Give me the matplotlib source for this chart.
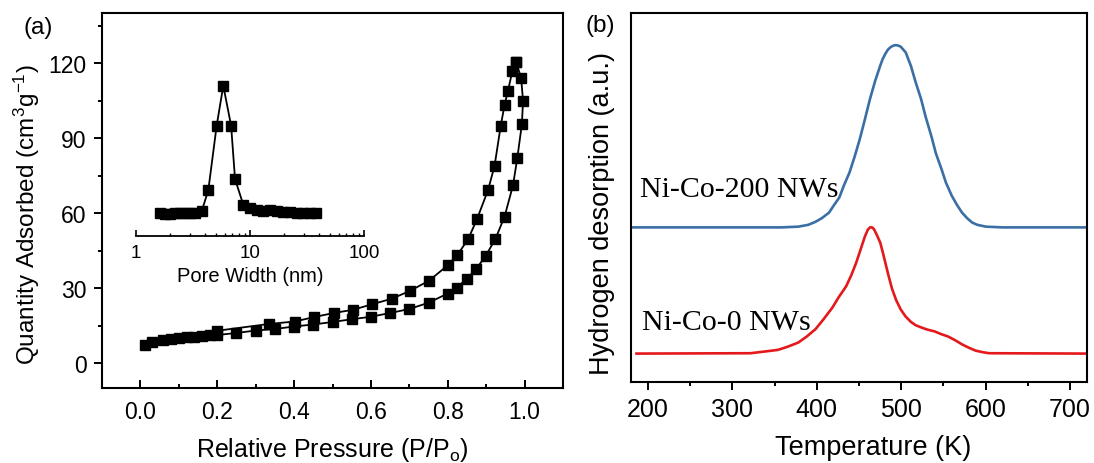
import numpy as np
import matplotlib
matplotlib.use('Agg')
import matplotlib.pyplot as plt
from matplotlib.ticker import MultipleLocator, LogLocator, NullFormatter

plt.rcParams['font.family'] = ['Liberation Sans', 'DejaVu Sans']
plt.rcParams['mathtext.fontset'] = 'custom'
plt.rcParams['mathtext.rm'] = 'Liberation Sans'
plt.rcParams['mathtext.it'] = 'Liberation Sans:italic'

#
# (a) N2 isotherm, adsorption (lower) and desorption (upper) branches
#
ads_p = [0.013, 0.03, 0.06, 0.08, 0.10, 0.12, 0.14, 0.16, 0.18, 0.20, 0.25, 0.30,
         0.35, 0.40, 0.45, 0.50, 0.55, 0.60, 0.65, 0.70, 0.75, 0.80, 0.823, 0.849,
         0.874, 0.899, 0.924, 0.948, 0.970, 0.981, 0.993, 0.996, 0.991, 0.978]
ads_q = [7.3, 8.4, 9.2, 9.6, 10.0, 10.3, 10.6, 10.9, 11.3, 11.2, 12.0, 13.0,
         13.6, 14.6, 15.4, 16.4, 17.5, 18.5, 20.0, 21.6, 24.1, 27.8, 30.1, 33.6,
         37.6, 42.9, 49.6, 58.6, 71.2, 81.9, 95.6, 104.9, 114.0, 120.4]
des_p = [0.978, 0.968, 0.957, 0.948, 0.938, 0.922, 0.905, 0.876, 0.853, 0.825,
         0.801, 0.751, 0.701, 0.654, 0.603, 0.554, 0.503, 0.453, 0.402, 0.334, 0.20]
des_q = [120.4, 116.7, 109.0, 103.3, 95.0, 79.0, 69.2, 57.5, 49.5, 43.2,
         39.2, 32.9, 28.8, 25.7, 23.5, 21.3, 20.0, 18.4, 16.6, 15.6, 12.9]

# inset: pore size distribution (arbitrary units)
pore_w = [1.62, 1.8, 1.99, 2.2, 2.43, 2.69, 2.97, 3.29, 3.77, 4.31, 5.1, 5.83, 6.83,
          7.39, 8.73, 10.0, 11.6, 13.1, 15.0, 17.2, 19.6, 22.4, 25.6, 29.3, 33.5, 38.3]
pore_v = [22.7, 22.0, 22.0, 22.7, 23.0, 22.7, 22.7, 22.7, 24.7, 46.0, 110.3, 150.3, 110.3,
          57.0, 31.3, 27.7, 26.3, 25.3, 26.3, 25.0, 24.3, 23.7, 23.3, 22.7, 22.7, 22.7]

#
# (b) hydrogen TPD curves (a.u.)
#
t200 = [180.5, 358.0, 378.2, 390.0, 398.4, 406.0, 414.5, 420.0, 426.7, 432.0, 438.8,
        445.0, 450.9, 457.0, 463.0, 469.0, 475.1, 478.0, 481.1, 484.0, 487.2, 490.0,
        493.2, 496.0, 499.3, 502.0, 505.4, 508.0, 511.4, 517.0, 523.5, 529.0, 535.6,
        541.0, 547.7, 553.0, 559.8, 566.0, 572.0, 578.0, 584.1, 590.0, 600.2, 610.0,
        620.4, 719.3]
h200 = [41.9, 41.9, 42.1, 42.6, 43.4, 44.4, 45.9, 47.8, 50.0, 53.2, 56.8,
        61.2, 65.8, 71.2, 76.7, 81.5, 85.7, 87.5, 88.9, 90.0, 90.7, 91.1,
        91.3, 91.2, 90.9, 90.2, 89.3, 87.7, 85.7, 81.3, 76.7, 71.8, 66.7,
        62.0, 57.7, 54.0, 50.5, 48.0, 45.9, 44.4, 43.2, 42.6, 42.1, 42.0,
        41.9, 41.9]
t0 = [186.5, 321.7, 354.0, 366.0, 378.2, 388.0, 398.4, 408.0, 418.6, 426.0, 434.7,
      441.0, 446.8, 452.0, 456.9, 460.5, 463.0, 465.5, 467.8, 471.0, 475.1, 478.0,
      481.1, 485.0, 489.2, 494.0, 499.3, 505.0, 511.4, 517.0, 523.5, 531.0, 539.7,
      547.0, 555.8, 564.0, 572.0, 580.0, 588.1, 596.0, 604.2, 719.3]
h0 = [7.7, 7.8, 8.7, 9.6, 10.7, 12.3, 14.3, 17.0, 20.2, 23.0, 25.9,
      29.0, 32.4, 36.0, 39.4, 41.3, 41.9, 41.9, 41.4, 39.9, 37.8, 35.3,
      32.4, 28.8, 25.2, 22.2, 19.7, 17.8, 16.3, 15.4, 14.8, 14.2, 13.7,
      13.0, 12.3, 11.3, 10.2, 9.3, 8.5, 8.1, 7.8, 7.7]

W, H = 1094, 464
fig = plt.figure(figsize=(W / 100, H / 100), dpi=100)

def box(l, r, t, b):
    return [l / W, 1 - b / H, (r - l) / W, (b - t) / H]

# ---------------- panel (a) ----------------
ax1 = fig.add_axes(box(102, 563, 14, 389))
mk = dict(marker='s', ms=7, color='black', mfc='black', lw=1.3)
ax1.plot(ads_p, ads_q, **mk)
ax1.plot(des_p, des_q, **mk)
ax1.set_xlim(-0.1, 1.1)
ax1.set_ylim(-10, 140)
ax1.xaxis.set_major_locator(MultipleLocator(0.2))
ax1.xaxis.set_minor_locator(MultipleLocator(0.1))
ax1.yaxis.set_major_locator(MultipleLocator(30))
ax1.yaxis.set_minor_locator(MultipleLocator(15))
ax1.set_xticks([0.0, 0.2, 0.4, 0.6, 0.8, 1.0])
ax1.set_yticks([0, 30, 60, 90, 120])
ax1.tick_params(axis='x', which='both', direction='in', top=False, labelsize=16.5, pad=9)
ax1.tick_params(axis='x', which='major', length=6, width=1.4)
ax1.tick_params(axis='x', which='minor', length=3, width=1.4)
ax1.tick_params(axis='y', which='both', direction='out', right=False, labelsize=16.5, pad=5)
ax1.tick_params(axis='y', which='major', length=6, width=1.4)
ax1.tick_params(axis='y', which='minor', length=3, width=1.4)
for sp in ax1.spines.values():
    sp.set_linewidth(1.5)
ax1.set_xlabel('Relative Pressure (P/P$_\\mathregular{o}$)', fontsize=18)
ax1.set_ylabel('Quantity Adsorbed (cm$^\\mathregular{3}$g$^\\mathregular{-1}$)', fontsize=17.5)
ax1.xaxis.set_label_coords(0.5, -0.125)
ax1.yaxis.set_label_coords(-0.13, 0.464)
fig.text(38 / W, 1 - 28 / H, '(a)', fontsize=17.5, ha='center', va='center')

# inset
ax_in = fig.add_axes(box(136, 364, 77, 237))
ax_in.patch.set_alpha(0)
ax_in.plot(pore_w, pore_v, marker='s', ms=6.5, color='black', mfc='black', lw=1.3)
ax_in.set_xscale('log')
ax_in.set_xlim(1, 100)
ax_in.set_ylim(0, 160)
for k in ['top', 'left', 'right']:
    ax_in.spines[k].set_visible(False)
ax_in.spines['bottom'].set_linewidth(1.3)
ax_in.set_yticks([])
ax_in.xaxis.set_major_locator(LogLocator(base=10))
ax_in.xaxis.set_minor_locator(LogLocator(base=10, subs=np.arange(2, 10)))
ax_in.xaxis.set_minor_formatter(NullFormatter())
ax_in.set_xticks([1, 10, 100])
ax_in.set_xticklabels(['1', '10', '100'])
ax_in.tick_params(axis='x', which='both', direction='in', labelsize=13.5, pad=6)
ax_in.tick_params(axis='x', which='major', length=4, width=1.2)
ax_in.tick_params(axis='x', which='minor', length=2, width=1.0)
ax_in.set_xlabel('Pore Width (nm)', fontsize=14.5, labelpad=3)

# ---------------- panel (b) ----------------
ax2 = fig.add_axes(box(631, 1087, 14, 383))
ax2.plot(t200, h200, color='#3a6ea5', lw=1.9)
ax2.plot(t0, h0, color='#e3191c', lw=1.9)
ax2.set_xlim(180, 720)
ax2.set_ylim(0, 100)
ax2.xaxis.set_major_locator(MultipleLocator(100))
ax2.xaxis.set_minor_locator(MultipleLocator(50))
ax2.set_yticks([])
ax2.tick_params(axis='x', which='both', direction='out', top=False, labelsize=18, pad=5)
ax2.tick_params(axis='x', which='major', length=6, width=1.4)
ax2.tick_params(axis='x', which='minor', length=3, width=1.4)
for sp in ax2.spines.values():
    sp.set_linewidth(1.5)
ax2.set_xlabel('Temperature (K)', fontsize=19.5)
ax2.set_ylabel('Hydrogen desorption (a.u.)', fontsize=19.5)
ax2.xaxis.set_label_coords(0.53, -0.14)
ax2.yaxis.set_label_coords(-0.035, 0.459)
serif = ['Liberation Serif', 'DejaVu Serif']
ax2.text(190.5, 50.5, 'Ni-Co-200 NWs', family=serif, fontsize=21.5, ha='left', va='baseline')
ax2.text(192.5, 14.4, 'Ni-Co-0 NWs', family=serif, fontsize=21.5, ha='left', va='baseline')
fig.text(600 / W, 1 - 26 / H, '(b)', fontsize=17.5, ha='center', va='center')

fig.savefig('out.png', dpi=100)
